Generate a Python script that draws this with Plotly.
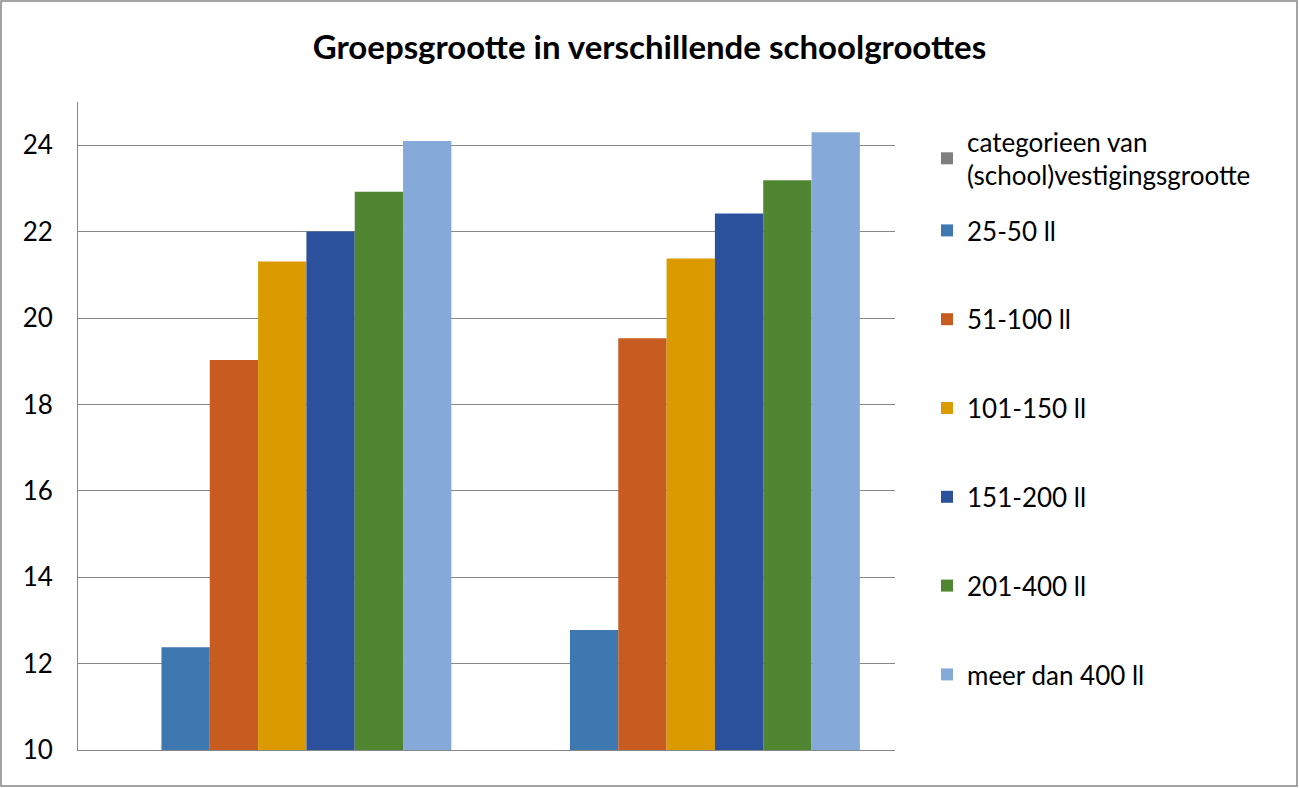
import plotly.graph_objects as go

categories = ["A", "B"]
series_names = ["categorieen van<br>(school)vestigingsgrootte", "25-50 ll", "51-100 ll",
                "101-150 ll", "151-200 ll", "201-400 ll", "meer dan 400 ll"]
values = [
    [None, None],
    [12.38, 12.78],
    [19.03, 19.53],
    [21.31, 21.38],
    [22.0, 22.42],
    [22.92, 23.19],
    [24.10, 24.30],
]
colors = ["#7F7F7F", "#3F77B1", "#C85B20", "#DB9A00", "#2C519C", "#508632", "#85AADA"]

W, H = 1299, 788
ml, mr, mt, mb = 78, 404, 102, 38
pw, ph = W - ml - mr, H - mt - mb

fig = go.Figure()
for i, (name, vals, col) in enumerate(zip(series_names, values, colors)):
    fig.add_trace(go.Bar(x=categories, y=vals, name=name, marker_color=col,
                         marker_line_width=0, legendgroup=str(i),
                         legend="legend2" if i == 0 else "legend"))

font_family = "Lato, 'Open Sans', sans-serif"
leg_x = 1 + (927 - (W - mr)) / pw
fig.update_layout(
    width=W, height=H,
    margin=dict(l=ml, r=mr, t=mt, b=mb),
    paper_bgcolor="white", plot_bgcolor="white",
    barmode="group", bargap=0.172, bargroupgap=0,
    font=dict(family=font_family, size=26, color="#000000"),
    title=dict(text="<b>Groepsgrootte in verschillende schoolgroottes</b>",
               x=0.5, xref="container", xanchor="center",
               y=1 - 47 / H, yref="container", yanchor="middle",
               font=dict(size=33, family=font_family, color="#000000")),
    xaxis=dict(showticklabels=False, showline=True, linecolor="#878787", linewidth=1,
               ticks="", showgrid=False),
    yaxis=dict(range=[10, 25], dtick=2, tick0=10, showline=True, linecolor="#878787",
               linewidth=1, gridcolor="#878787", gridwidth=1, ticks="",
               ticklabelstandoff=19, tickfont=dict(size=26), zeroline=False),
    legend=dict(x=leg_x, xanchor="left", y=1 - (207 - mt) / ph,
                yanchor="top", tracegroupgap=52, font=dict(size=26),
                itemwidth=30, bgcolor="rgba(0,0,0,0)"),
    legend2=dict(x=leg_x, xanchor="left", y=1 - (118 - mt) / ph,
                 yanchor="top", font=dict(size=26),
                 itemwidth=30, bgcolor="rgba(0,0,0,0)"),
    showlegend=True,
)
# outer border
fig.add_shape(type="rect", xref="paper", yref="paper",
              x0=(1 - ml) / pw, x1=(W - 2 - ml) / pw,
              y0=-(mb - 2) / ph, y1=1 + (mt - 1) / ph,
              line=dict(color="#878787", width=1.5), fillcolor="rgba(0,0,0,0)")

fig.write_html("out.html")
